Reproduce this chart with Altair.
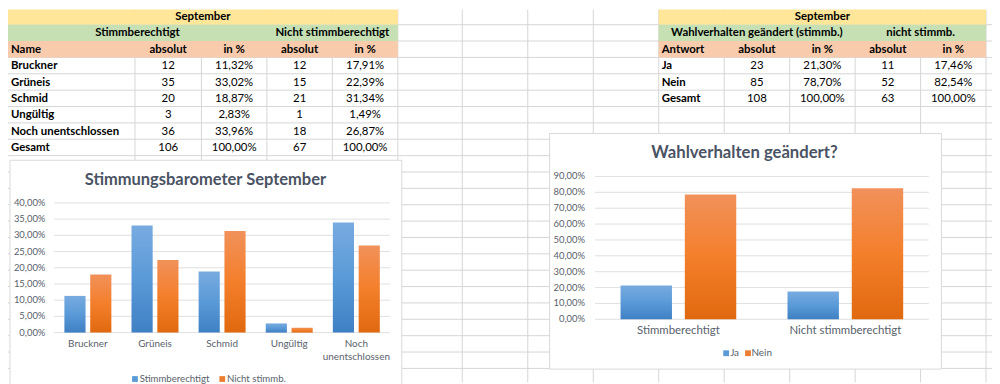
import altair as alt
import pandas as pd

# ---------------- data ----------------
month = "September"
names = ["Bruckner", "Grüneis", "Schmid", "Ungültig", "Noch unentschlossen"]
stimm_abs = [12, 35, 20, 3, 36]
stimm_pct = [11.32, 33.02, 18.87, 2.83, 33.96]
nicht_abs = [12, 15, 21, 1, 18]
nicht_pct = [17.91, 22.39, 31.34, 1.49, 26.87]
stimm_total = 106
nicht_total = 67

answers = ["Ja", "Nein"]
wv_stimm_abs = [23, 85]
wv_stimm_pct = [21.30, 78.70]
wv_nicht_abs = [11, 52]
wv_nicht_pct = [17.46, 82.54]
wv_stimm_total = 108
wv_nicht_total = 63

t1_groups = ["Stimmberechtigt", "Nicht stimmberechtigt"]
t1_head = ["Name", "absolut", "in %", "absolut", "in %"]
t2_groups = ["Wahlverhalten geändert (stimmb.)", "nicht stimmb."]
t2_head = ["Antwort", "absolut", "in %", "absolut", "in %"]
total_label = "Gesamt"

chart1_title = "Stimmungsbarometer September"
chart1_series = ["Stimmberechtigt", "Nicht stimmb."]
chart1_ticks = [0, 5, 10, 15, 20, 25, 30, 35, 40]
chart2_title = "Wahlverhalten geändert?"
chart2_groups = ["Stimmberechtigt", "Nicht stimmberechtigt"]
chart2_ticks = [0, 10, 20, 30, 40, 50, 60, 70, 80, 90]


def pct(v):
    return f"{v:.2f}".replace(".", ",") + "%"


# ---------------- layout ----------------
W, H = 992, 376
PX = alt.Scale(domain=[0, W], range=[0, W])
PY = alt.Scale(domain=[0, H], range=[0, H])
FONT = "Lato"
SHEET_GRID = "#d6d6d6"
CHART_GRID = "#e0e0e0"
TXT = "#595f6b"
TITLE = "#4a5363"
YELLOW, GREEN, SALMON = "#ffe699", "#c6e0b4", "#f8cbad"
BLUE, ORANGE = "#5b9bd5", "#ed7d31"

COLS = [128, 195, 261, 327, 393, 458, 524, 590, 656, 722, 788, 854, 920, 986]
ROW0, RH = -1.2, 16.5
ROWS = [ROW0 + RH * k for k in range(1, 24)]
T1 = [0, 128, 195, 261, 327, 393]
T2 = [656, 722, 788, 854, 920, 986]


def rc(r):
    return ROW0 + RH * (r + 0.5) + 0.6


layers = []

# sheet gridlines
layers.append(alt.Chart(pd.DataFrame({"x": COLS})).mark_rule(color=SHEET_GRID, strokeWidth=1).encode(
    x=alt.X("x:Q", scale=PX, axis=None), y=alt.value(0), y2=alt.value(H)))
layers.append(alt.Chart(pd.DataFrame({"y": ROWS})).mark_rule(color=SHEET_GRID, strokeWidth=1).encode(
    y=alt.Y("y:Q", scale=PY, axis=None), x=alt.value(0), x2=alt.value(W)))

# header fills
fills = []
for e in (T1, T2):
    for r, c in enumerate([YELLOW, GREEN, SALMON]):
        fills.append({"x": e[0], "x2": e[-1], "y": ROW0 + RH * r if r else 0, "y2": ROW0 + RH * (r + 1), "c": c})
layers.append(alt.Chart(pd.DataFrame(fills)).mark_rect().encode(
    x=alt.X("x:Q", scale=PX, axis=None), x2="x2:Q",
    y=alt.Y("y:Q", scale=PY, axis=None), y2="y2:Q",
    color=alt.Color("c:N", scale=None)))

# table texts
cells_left, cells_bold, cells_norm = [], [], []


def mid(e, i, j):
    return (e[i] + e[j]) / 2


# table 1
cells_bold.append({"x": mid(T1, 0, 5), "y": rc(0), "t": month})
cells_bold.append({"x": mid(T1, 0, 3), "y": rc(1), "t": t1_groups[0]})
cells_bold.append({"x": mid(T1, 3, 5), "y": rc(1), "t": t1_groups[1]})
cells_left.append({"x": 3, "y": rc(2), "t": t1_head[0]})
for j in range(1, 5):
    cells_bold.append({"x": mid(T1, j, j + 1), "y": rc(2), "t": t1_head[j]})
rows1 = list(zip(names, stimm_abs, stimm_pct, nicht_abs, nicht_pct)) + [
    (total_label, stimm_total, 100.0, nicht_total, 100.0)]
for i, (n, a1, p1, a2, p2) in enumerate(rows1):
    y = rc(3 + i)
    cells_left.append({"x": 3, "y": y, "t": n})
    for j, v in enumerate([str(a1), pct(p1), str(a2), pct(p2)], start=1):
        cells_norm.append({"x": mid(T1, j, j + 1), "y": y, "t": v})

# table 2
cells_bold.append({"x": mid(T2, 0, 5), "y": rc(0), "t": month})
cells_bold.append({"x": mid(T2, 0, 3), "y": rc(1), "t": t2_groups[0]})
cells_bold.append({"x": mid(T2, 3, 5), "y": rc(1), "t": t2_groups[1]})
cells_left.append({"x": T2[0] + 3, "y": rc(2), "t": t2_head[0]})
for j in range(1, 5):
    cells_bold.append({"x": mid(T2, j, j + 1), "y": rc(2), "t": t2_head[j]})
rows2 = list(zip(answers, wv_stimm_abs, wv_stimm_pct, wv_nicht_abs, wv_nicht_pct)) + [
    (total_label, wv_stimm_total, 100.0, wv_nicht_total, 100.0)]
for i, (n, a1, p1, a2, p2) in enumerate(rows2):
    y = rc(3 + i)
    cells_left.append({"x": T2[0] + 3, "y": y, "t": n})
    for j, v in enumerate([str(a1), pct(p1), str(a2), pct(p2)], start=1):
        cells_norm.append({"x": mid(T2, j, j + 1), "y": y, "t": v})

TS = 11.5
for data, align, weight in [(cells_left, "left", "bold"), (cells_bold, "center", "bold"),
                            (cells_norm, "center", "normal")]:
    layers.append(alt.Chart(pd.DataFrame(data)).mark_text(
        align=align, baseline="middle", font=FONT, fontSize=TS, fontWeight=weight, color="#000000").encode(
        x=alt.X("x:Q", scale=PX, axis=None), y=alt.Y("y:Q", scale=PY, axis=None), text="t:N"))

# chart boxes
one = pd.DataFrame({"a": [0]})
for (x1, x2, y1, y2) in [(2, 397, 152, 420), (546, 941, 125, 362.5)]:
    layers.append(alt.Chart(one).mark_rect(fill="white", stroke="#d9d9d9", strokeWidth=1).encode(
        x=alt.value(x1), x2=alt.value(x2), y=alt.value(y1), y2=alt.value(y2)))


def grad(top, mid_, bot):
    return alt.Gradient(gradient="linear", x1=0, x2=0, y1=0, y2=1, stops=[
        alt.GradientStop(color=top, offset=0), alt.GradientStop(color=mid_, offset=0.5),
        alt.GradientStop(color=bot, offset=1)])


GRADS = [grad("#78abe0", "#5a9ad8", "#3f80c4"), grad("#f1915a", "#f47f2b", "#e0690f")]


def bar_chart(cats, series, vals_by_series, ticks, xr, pin, poff, yr, title, tpos, tsize,
              label_y, label_size, tick_x, tick_size, legend, wrap=False):
    out = []
    XS = alt.Scale(domain=cats, range=xr, paddingInner=pin, paddingOuter=pin / 2)
    OS = alt.Scale(domain=series, paddingInner=poff, paddingOuter=0)
    YS = alt.Scale(domain=[ticks[0], ticks[-1]], range=yr)
    tdf = pd.DataFrame({"v": ticks, "lab": [pct(t) for t in ticks]})
    out.append(alt.Chart(tdf).mark_rule(color=CHART_GRID, strokeWidth=1).encode(
        y=alt.Y("v:Q", scale=YS, axis=None), x=alt.value(xr[0]), x2=alt.value(xr[1])))
    out.append(alt.Chart(tdf).mark_text(align="right", baseline="middle", font=FONT,
                                        fontSize=tick_size, color=TXT).encode(
        y=alt.Y("v:Q", scale=YS, axis=None), x=alt.value(tick_x), text="lab:N"))
    for s, vals, g in zip(series, vals_by_series, GRADS):
        df = pd.DataFrame({"cat": cats, "series": s, "value": vals})
        out.append(alt.Chart(df).mark_bar(color=g).encode(
            x=alt.X("cat:N", scale=XS, axis=None),
            xOffset=alt.XOffset("series:N", scale=OS),
            y=alt.Y("value:Q", scale=YS, axis=None, stack=None)))
    labs = [c.replace(" ", "\n") if (wrap and len(c) > 14) else c for c in cats]
    out.append(alt.Chart(pd.DataFrame({"cat": cats, "lab": labs})).mark_text(
        baseline="top", lineBreak="\n", lineHeight=label_size * 1.3, font=FONT,
        fontSize=label_size, color=TXT).encode(
        x=alt.X("cat:N", scale=XS, axis=None), y=alt.value(label_y), text="lab:N"))
    out.append(alt.Chart(pd.DataFrame({"t": [title]})).mark_text(
        font=FONT, fontSize=tsize, fontWeight="bold", color=TITLE, baseline="middle").encode(
        x=alt.value(tpos[0]), y=alt.value(tpos[1]), text="t:N"))
    (ly, sq_x, tx_x, lsize) = legend
    ldf = pd.DataFrame({"s": series, "c": [BLUE, ORANGE], "sx": sq_x, "tx": tx_x, "y": [ly] * 2})
    out.append(alt.Chart(ldf).mark_square(size=34, opacity=1).encode(
        x=alt.X("sx:Q", scale=PX, axis=None), y=alt.Y("y:Q", scale=PY, axis=None),
        color=alt.Color("c:N", scale=None)))
    out.append(alt.Chart(ldf).mark_text(align="left", baseline="middle", font=FONT,
                                        fontSize=lsize, color=TXT).encode(
        x=alt.X("tx:Q", scale=PX, axis=None), y=alt.Y("y:Q", scale=PY, axis=None), text="s:N"))
    return out


layers += bar_chart(names, chart1_series, [stimm_pct, nicht_pct], chart1_ticks,
                    [46.7, 385], 0.30, 0.18, [325.7, 195.0], chart1_title, (199, 172), 16.6,
                    332, 10, 37.7, 9.5, (372.5, [128, 216], [132.7, 220.7], 9.7), wrap=True)
layers += bar_chart(chart2_groups, answers, [[wv_stimm_pct[0], wv_nicht_pct[0]],
                                              [wv_stimm_pct[1], wv_nicht_pct[1]]], chart2_ticks,
                    [591.7, 928.3], 0.307, 0.2, [312.3, 168.3], chart2_title, (742.5, 145), 16.8,
                    318, 11.5, 581.7, 9.5, (346.5, [724, 746], [728, 749.5], 10))

chart = alt.layer(*layers).properties(
    width=W, height=H, padding=0, autosize=alt.AutoSizeParams(type="none"),
    background="white"
).resolve_scale(x="independent", y="independent", color="independent", xOffset="independent"
                ).configure_view(stroke=None)

chart.save("out.html", embed_options={"renderer": "svg", "actions": False})
